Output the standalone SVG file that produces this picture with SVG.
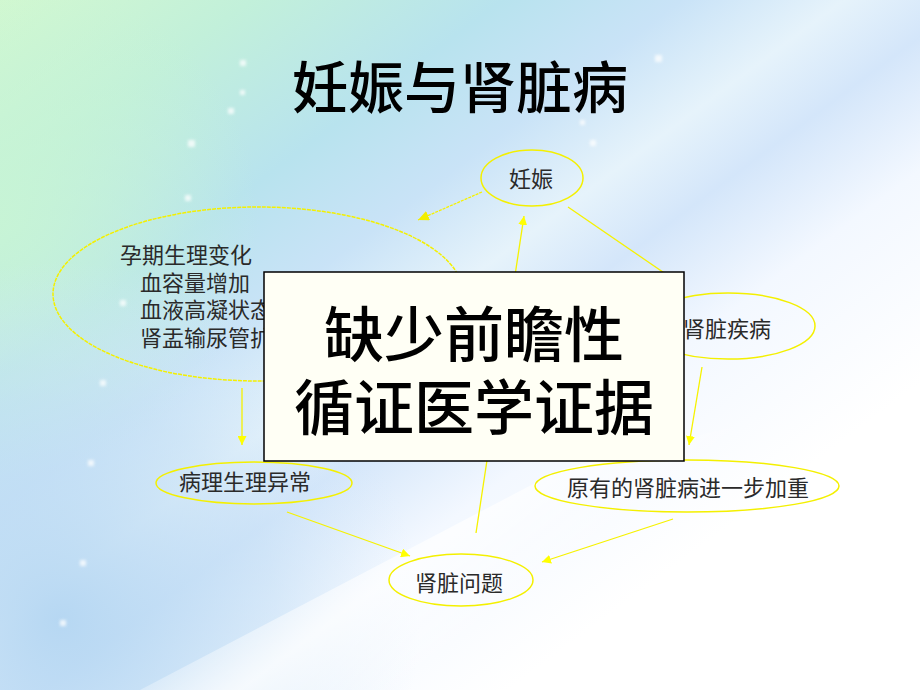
<svg xmlns="http://www.w3.org/2000/svg" width="920" height="690" viewBox="0 0 920 690">
<defs>
<linearGradient id="bg" gradientUnits="userSpaceOnUse" x1="0" y1="0" x2="640" y2="860">
<stop offset="0" stop-color="#d2f8d0"/>
<stop offset="0.14" stop-color="#c2f0da"/>
<stop offset="0.28" stop-color="#b8e3ee"/>
<stop offset="0.38" stop-color="#c9e3f7"/>
<stop offset="0.47" stop-color="#e6f3fb"/>
<stop offset="0.54" stop-color="#d4e6fa"/>
<stop offset="0.64" stop-color="#f3f8ff"/>
<stop offset="0.8" stop-color="#ffffff"/>
<stop offset="1" stop-color="#ffffff"/>
</linearGradient>
<radialGradient id="blueL" gradientUnits="userSpaceOnUse" cx="60" cy="620" r="360">
<stop offset="0" stop-color="#b4d6f2" stop-opacity="0.95"/>
<stop offset="0.6" stop-color="#c4dff5" stop-opacity="0.5"/>
<stop offset="1" stop-color="#d8eafa" stop-opacity="0"/>
</radialGradient>
<radialGradient id="greenL" gradientUnits="userSpaceOnUse" cx="0" cy="220" r="260">
<stop offset="0" stop-color="#c8f5d4" stop-opacity="0.85"/>
<stop offset="1" stop-color="#c8f5d4" stop-opacity="0"/>
</radialGradient>
<linearGradient id="streak" gradientUnits="userSpaceOnUse" x1="300" y1="520" x2="420" y2="680">
<stop offset="0" stop-color="#ffffff" stop-opacity="0"/>
<stop offset="0.5" stop-color="#ffffff" stop-opacity="0.75"/>
<stop offset="1" stop-color="#ffffff" stop-opacity="0"/>
</linearGradient>
<filter id="blur" x="-50%" y="-50%" width="200%" height="200%"><feGaussianBlur stdDeviation="1.5"/></filter>
<marker id="ah" markerUnits="userSpaceOnUse" markerWidth="10" markerHeight="9" refX="9" refY="4.5" orient="auto">
<path d="M0,0 L9,4.5 L0,9 z" fill="#ffff00"/>
</marker>
<marker id="ah2" markerUnits="userSpaceOnUse" markerWidth="12" markerHeight="10" refX="11" refY="5" orient="auto">
<path d="M0,0 L11,5 L0,10 z" fill="#f2ee00"/>
</marker>
</defs>
<style>
.small{font-family:"Noto Sans CJK SC","Liberation Sans",sans-serif;font-size:22px;fill:#2a2a2a}
.big{font-family:"Noto Sans CJK SC","Liberation Sans",sans-serif;font-weight:500;fill:#000}
.ell{fill:none;stroke:#f4f000;stroke-width:1.5}
.con{fill:none;stroke:#f6f200;stroke-width:1.3}
</style>

<g id="background">
<rect x="0" y="0" width="920" height="690" fill="url(#bg)"/>
<rect x="0" y="0" width="920" height="690" fill="url(#greenL)"/>
<rect x="0" y="0" width="920" height="690" fill="url(#blueL)"/>
<polygon points="140,690 480,690 760,420 560,470" fill="url(#streak)"/>
<g fill="#ffffff" opacity="0.75" filter="url(#blur)">
<rect x="188" y="140" width="7" height="7"/>
<rect x="240" y="60" width="6" height="6"/>
<rect x="228" y="108" width="6" height="6"/>
<rect x="240" y="90" width="5" height="5"/>
<rect x="185" y="195" width="6" height="6"/>
<rect x="120" y="300" width="6" height="6"/>
<rect x="100" y="380" width="6" height="6"/>
<rect x="88" y="460" width="6" height="6"/>
<rect x="80" y="560" width="6" height="6"/>
<rect x="60" y="620" width="6" height="6"/>
<rect x="590" y="140" width="6" height="6"/>
<rect x="655" y="55" width="7" height="7"/>
<rect x="580" y="120" width="5" height="5"/>
</g>
</g>

<g id="title">
<text class="big" x="460" y="108" font-size="56" text-anchor="middle">妊娠与肾脏病</text>
</g>

<g id="connectors">
<line class="con" x1="482" y1="192" x2="418" y2="220" stroke="#d8cc10" stroke-dasharray="3,1" marker-end="url(#ah2)"/>
<line class="con" x1="476" y1="533" x2="524" y2="216" marker-end="url(#ah)"/>
<line class="con" x1="568" y1="207" x2="676" y2="281"/>
<line class="con" x1="702" y1="367" x2="689" y2="445" marker-end="url(#ah)"/>
<line class="con" x1="242" y1="388" x2="242" y2="445" marker-end="url(#ah)"/>
<line class="con" x1="287" y1="512" x2="410" y2="556" marker-end="url(#ah)"/>
<line class="con" x1="673" y1="519" x2="542" y2="562" marker-end="url(#ah)"/>
</g>

<g id="node-pregnancy">
<ellipse class="ell" cx="532" cy="178" rx="51" ry="28"/>
<text class="small" x="531" y="187" text-anchor="middle">妊娠</text>
</g>

<g id="node-physio">
<ellipse class="ell" cx="258" cy="294" rx="205" ry="87" stroke="#d6c800" stroke-dasharray="4,1"/>
<text class="small" x="120" y="263">孕期生理变化</text>
<text class="small" x="140" y="291">血容量增加</text>
<text class="small" x="140" y="318">血液高凝状态</text>
<text class="small" x="140" y="346">肾盂输尿管扩张</text>
</g>

<g id="node-kidney-disease">
<ellipse class="ell" cx="728" cy="326" rx="87" ry="33"/>
<text class="small" x="683" y="337">肾脏疾病</text>
</g>

<g id="node-patho">
<ellipse class="ell" cx="254" cy="483" rx="98" ry="21"/>
<text class="small" x="179" y="490">病理生理异常</text>
</g>

<g id="node-worse">
<ellipse class="ell" cx="687" cy="486" rx="152" ry="26"/>
<text class="small" x="567" y="496">原有的肾脏病进一步加重</text>
</g>

<g id="node-kidney-problem">
<ellipse class="ell" cx="461" cy="580" rx="72" ry="26"/>
<text class="small" x="415" y="591">肾脏问题</text>
</g>

<g id="node-callout">
<rect x="264" y="272" width="420" height="189" fill="#fffff5" stroke="#000" stroke-width="1.5"/>
<text class="big" x="474" y="357" font-size="60" text-anchor="middle">缺少前瞻性</text>
<text class="big" x="474" y="430" font-size="60" text-anchor="middle">循证医学证据</text>
</g>
</svg>
